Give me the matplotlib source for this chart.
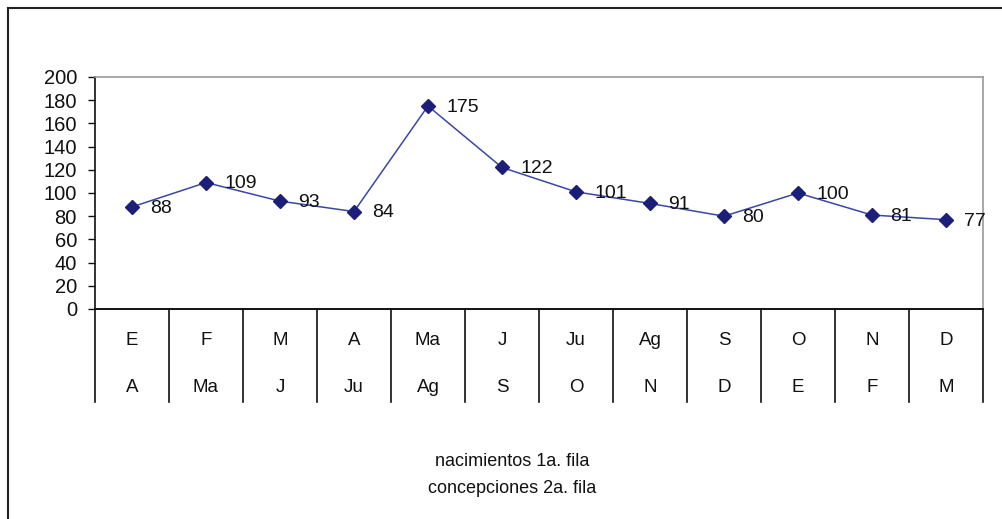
import matplotlib
matplotlib.use("Agg")
import matplotlib.pyplot as plt
import matplotlib.transforms as mtransforms
from matplotlib.lines import Line2D

plt.rcParams['font.family'] = ['Liberation Sans', 'DejaVu Sans']

values = [88, 109, 93, 84, 175, 122, 101, 91, 80, 100, 81, 77]
row1 = ["E", "F", "M", "A", "Ma", "J", "Ju", "Ag", "S", "O", "N", "D"]
row2 = ["A", "Ma", "J", "Ju", "Ag", "S", "O", "N", "D", "E", "F", "M"]
yticks = list(range(0, 201, 20))
caption = ["nacimientos 1a. fila", "concepciones 2a. fila"]

W, H = 1003, 519
fig = plt.figure(figsize=(W / 100, H / 100), dpi=100)
fig.patch.set_facecolor("white")

# outer frame (top and left lines only)
fig.add_artist(Line2D([8 / W, 1.0], [1 - 8 / H, 1 - 8 / H], transform=fig.transFigure,
                      color="#222222", lw=1.5))
fig.add_artist(Line2D([8 / W, 8 / W], [0, 1 - 8 / H], transform=fig.transFigure,
                      color="#222222", lw=1.5))

left, right, top, bottom = 95, 983, 77, 309
ax = fig.add_axes([left / W, 1 - bottom / H, (right - left) / W, (bottom - top) / H])

x = list(range(len(values)))
ax.plot(x, values, color="#3a46a8", lw=1.1, zorder=3)
ax.plot(x, values, linestyle="none", marker="D", markersize=7.5,
        color="#1c1f78", zorder=4)
for xi, v in zip(x, values):
    ax.annotate(str(v), (xi, v), xytext=(13, -1), textcoords="offset points",
                ha="left", va="center", fontsize=14, color="#111111", zorder=5)

ax.set_xlim(-0.5, len(values) - 0.5)
ax.set_ylim(0, 200)
ax.set_yticks(yticks)
ax.set_yticklabels([str(t) for t in yticks], fontsize=14.5)
ax.tick_params(axis="y", length=5, width=1, direction="out", pad=8, colors="#111111")
ax.set_xticks([])

ax.spines["left"].set_color("#111111")
ax.spines["bottom"].set_color("#111111")
ax.spines["left"].set_linewidth(1.2)
ax.spines["bottom"].set_linewidth(1.4)
ax.spines["top"].set_color("#999999")
ax.spines["right"].set_color("#999999")
ax.spines["top"].set_linewidth(1.2)
ax.spines["right"].set_linewidth(1.2)

# category table below the axis
trans = mtransforms.blended_transform_factory(ax.transData, ax.transAxes)
ax_h = bottom - top
div_bottom = -(402 - bottom) / ax_h
for i in range(len(values) + 1):
    ax.add_line(Line2D([i - 0.5, i - 0.5], [0, div_bottom], transform=trans,
                       color="#111111", lw=1.2, clip_on=False))
y1 = -(345 - bottom) / ax_h
y2 = -(392 - bottom) / ax_h
for xi, a, b in zip(x, row1, row2):
    ax.text(xi, y1, a, transform=trans, ha="center", va="baseline", fontsize=13.5, color="#111111")
    ax.text(xi, y2, b, transform=trans, ha="center", va="baseline", fontsize=13.5, color="#111111")

fig.text(512 / W, 1 - 466 / H, caption[0], ha="center", va="baseline", fontsize=13, color="#111111")
fig.text(512 / W, 1 - 493 / H, caption[1], ha="center", va="baseline", fontsize=13, color="#111111")

fig.savefig("out.png", dpi=100, facecolor="white")
